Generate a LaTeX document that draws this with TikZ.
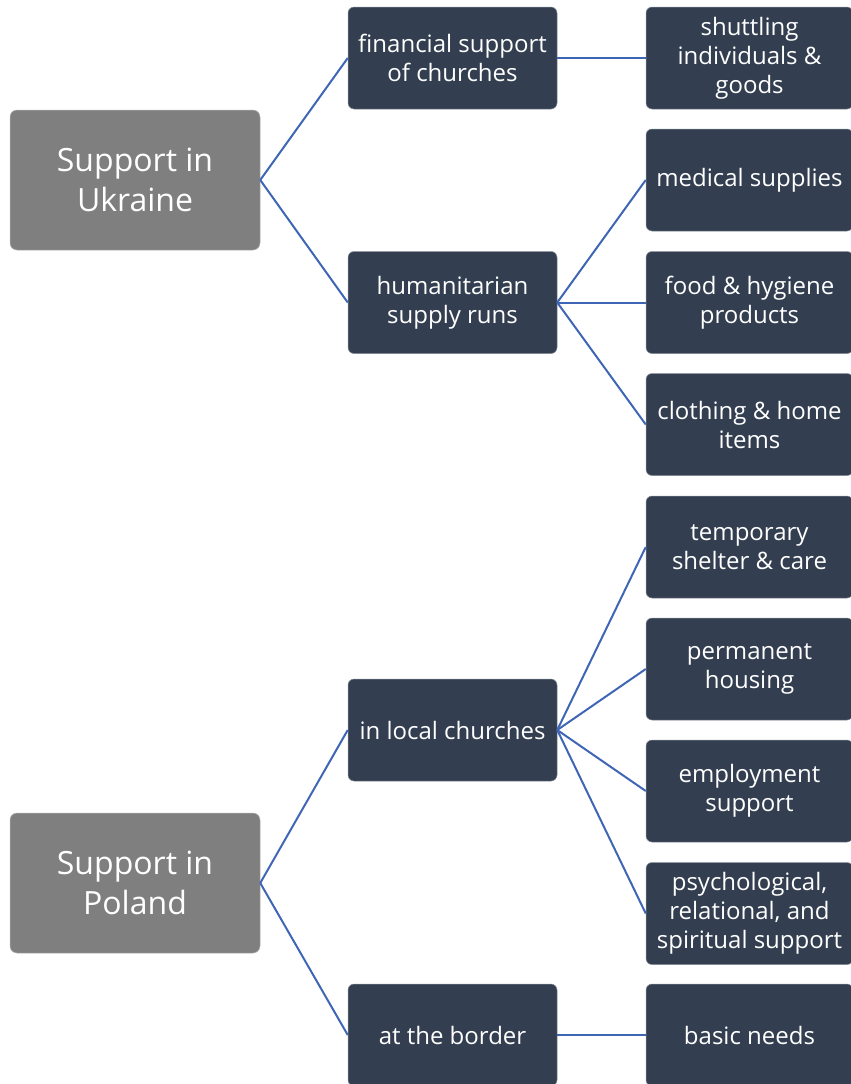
\documentclass[tikz,border=0pt]{standalone}
\usepackage{fontspec}
\setmainfont{Open Sans}

\definecolor{boxdark}{HTML}{333F50}
\definecolor{boxgray}{HTML}{7F7F7F}
\definecolor{linkblue}{HTML}{3F66B5}

\tikzset{
  topbox/.style={rectangle,rounded corners=7pt,fill=boxgray,draw=boxgray!60,line width=0.5pt,
    text=white,align=center,minimum width=250pt,minimum height=140pt,
    font=\fontsize{32}{40}\selectfont},
  subbox/.style={rectangle,rounded corners=6pt,fill=boxdark,draw=boxdark!60,line width=0.5pt,
    text=white,align=center,minimum width=209pt,minimum height=102pt,inner sep=1pt,
    font=\fontsize{24}{29}\selectfont},
  leafbox/.style={subbox,minimum width=207pt},
  link/.style={draw=linkblue,line width=2pt}
}

\begin{document}
\begin{tikzpicture}[x=1pt,y=-1pt]
		\useasboundingbox (0,0) rectangle (851,1084);
		% first level
		\node[topbox] (ukr) at (135,180) {Support in\\Ukraine};
		\node[topbox] (pol) at (135,883) {Support in\\Poland};
		% second level
		\node[subbox] (fin) at (452.5,58) {financial support\\of churches};
		\node[subbox] (hum) at (452.5,302.5) {humanitarian\\supply runs};
		\node[subbox] (loc) at (452.5,730) {in local churches};
		\node[subbox] (bor) at (452.5,1035) {at the border};
		% third level
		\node[leafbox] (shu) at (749.5,58) {shuttling\\individuals \&\\goods};
		\node[leafbox] (med) at (749.5,180) {medical supplies};
		\node[leafbox] (foo) at (749.5,302.5) {food \& hygiene\\products};
		\node[leafbox] (clo) at (749.5,424.5) {clothing \& home\\items};
		\node[leafbox] (tem) at (749.5,547) {temporary\\shelter \& care};
		\node[leafbox] (per) at (749.5,669) {permanent\\housing};
		\node[leafbox] (emp) at (749.5,791) {employment\\support};
		\node[leafbox] (psy) at (749.5,913.5) {psychological,\\relational, and\\spiritual support};
		\node[leafbox] (bas) at (749.5,1035) {basic needs};
		% links
		\foreach \a/\b in {ukr/fin,ukr/hum,pol/loc,pol/bor,fin/shu,hum/med,hum/foo,hum/clo,
		                   loc/tem,loc/per,loc/emp,loc/psy,bor/bas}
		  \draw[link] (\a.east) -- (\b.west);
		\end{tikzpicture}
\end{document}
